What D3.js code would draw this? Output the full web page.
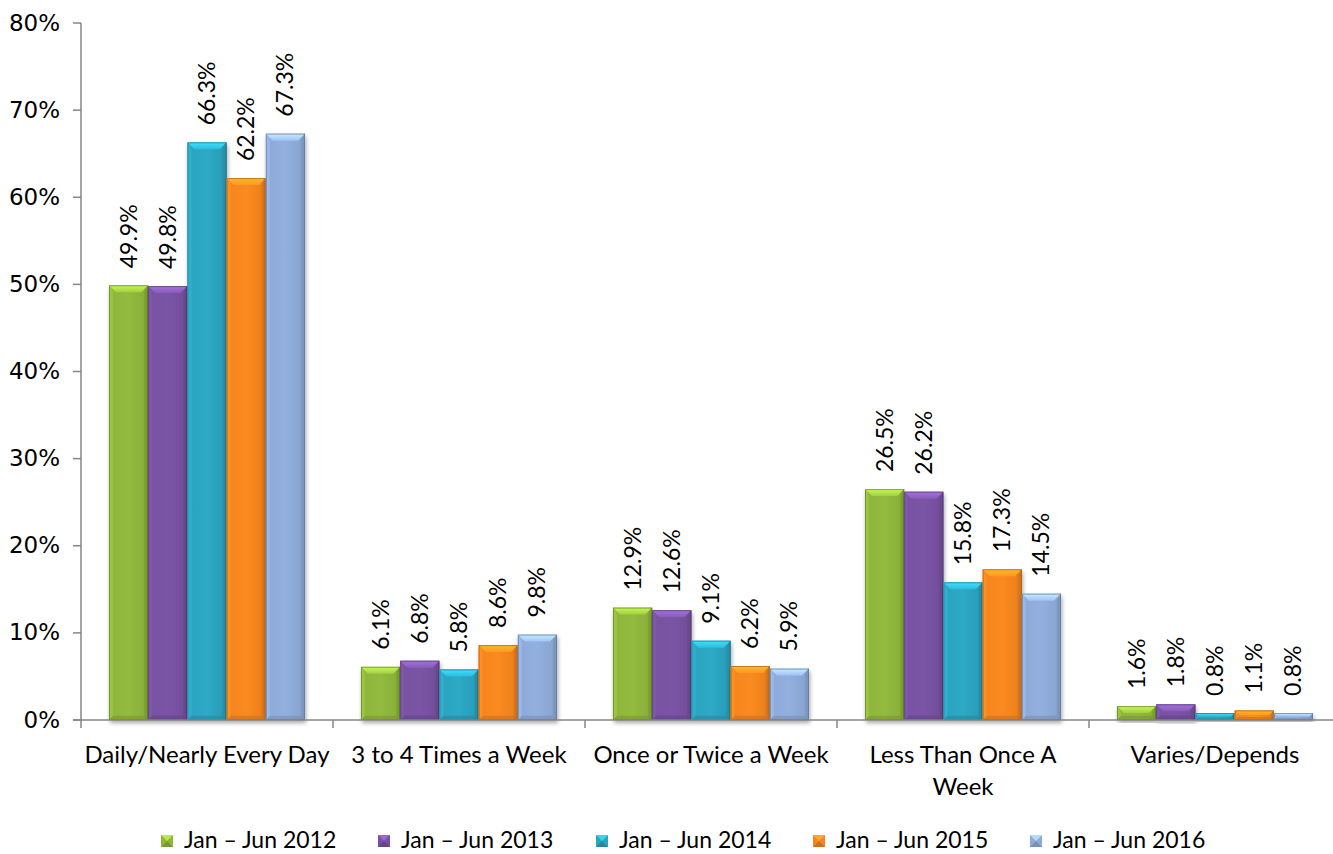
<!DOCTYPE html>
<html>
<head>
<meta charset="utf-8">
<script src="https://cdn.jsdelivr.net/npm/d3@7"></script>
<style>
  html, body { margin: 0; padding: 0; background: #fff; }
  svg { display: block; font-family: Lato, "Open Sans", sans-serif; }
</style>
</head>
<body>
<svg id="chart" width="1333" height="854"></svg>
<script>
// Categories along the x axis (multi-line labels split on "\n")
const categories = [
  "Daily/Nearly Every Day",
  "3 to 4 Times a Week",
  "Once or Twice a Week",
  "Less Than Once A\nWeek",
  "Varies/Depends"
];

// Series names (legend order)
const seriesNames = [
  "Jan – Jun 2012",
  "Jan – Jun 2013",
  "Jan – Jun 2014",
  "Jan – Jun 2015",
  "Jan – Jun 2016"
];

// Percent values per series, one entry per category
const s2012 = [49.9, 6.1, 12.9, 26.5, 1.6];
const s2013 = [49.8, 6.8, 12.6, 26.2, 1.8];
const s2014 = [66.3, 5.8, 9.1, 15.8, 0.8];
const s2015 = [62.2, 8.6, 6.2, 17.3, 1.1];
const s2016 = [67.3, 9.8, 5.9, 14.5, 0.8];
const seriesValues = [s2012, s2013, s2014, s2015, s2016];

// Y axis tick values (percent)
const yTicks = [0, 10, 20, 30, 40, 50, 60, 70, 80];

// Base colour per series
const seriesColors = ["#8fb63b", "#7752a1", "#2ca4c0", "#f5861f", "#8eabd9"];

const svg = d3.select("#chart");
const axisX = 81, axisY = 720, topY = 23;
const tickFont = 23, catFont = 24, valueFont = 23, legendFont = 23;

const x0 = d3.scaleBand()
  .domain(categories)
  .range([axisX, axisX + 5 * 252])
  .paddingInner(0.222)
  .paddingOuter(0.111);

const x1 = d3.scaleBand()
  .domain(seriesNames)
  .range([0, x0.bandwidth()]);

const y = d3.scaleLinear().domain([0, 80]).range([axisY, topY]);

// ---- gradients / filters ----
const defs = svg.append("defs");
const shadow = defs.append("filter").attr("id", "shadow")
  .attr("x", "-20%").attr("y", "-20%").attr("width", "140%").attr("height", "140%");
shadow.append("feGaussianBlur").attr("in", "SourceAlpha").attr("stdDeviation", 2.2);
shadow.append("feOffset").attr("dx", 1).attr("dy", 3).attr("result", "off");
shadow.append("feComponentTransfer").append("feFuncA").attr("type", "linear").attr("slope", 0.35);
const merge = shadow.append("feMerge");
merge.append("feMergeNode");
merge.append("feMergeNode").attr("in", "SourceGraphic");

seriesColors.forEach((c, i) => {
  const base = d3.color(c);
  const g = defs.append("linearGradient").attr("id", "body" + i)
    .attr("x1", 0).attr("x2", 1).attr("y1", 0).attr("y2", 0);
  g.append("stop").attr("offset", 0).attr("stop-color", base.brighter(0.25));
  g.append("stop").attr("offset", 0.12).attr("stop-color", base);
  g.append("stop").attr("offset", 0.5).attr("stop-color", base.brighter(0.08));
  g.append("stop").attr("offset", 0.88).attr("stop-color", base.darker(0.1));
  g.append("stop").attr("offset", 1).attr("stop-color", base.darker(0.6));
  const t = defs.append("linearGradient").attr("id", "top" + i)
    .attr("x1", 0).attr("x2", 0).attr("y1", 0).attr("y2", 1);
  t.append("stop").attr("offset", 0).attr("stop-color", base.brighter(0.9));
  t.append("stop").attr("offset", 1).attr("stop-color", base.brighter(0.35));
});

// ---- axes ----
const axisColor = "#868686";
svg.append("line").attr("x1", axisX).attr("x2", axisX)
  .attr("y1", topY).attr("y2", axisY).attr("stroke", axisColor).attr("stroke-width", 1.5);

const yAxis = svg.append("g");
yTicks.forEach(t => {
  yAxis.append("line").attr("x1", axisX - 8).attr("x2", axisX)
    .attr("y1", y(t)).attr("y2", y(t)).attr("stroke", axisColor).attr("stroke-width", 1.5);
  yAxis.append("text").attr("x", 60).attr("y", y(t)).attr("dy", "0.33em")
    .attr("text-anchor", "end").attr("font-size", tickFont)
    .attr("font-family", "'DejaVu Sans', Verdana, sans-serif").attr("fill", "#000")
    .text(t + "%");
});

// ---- bars ----
const bevel = 7;
const groups = svg.append("g").selectAll("g")
  .data(categories).join("g")
  .attr("transform", d => `translate(${x0(d)},0)`);

categories.forEach((cat, ci) => {
  const g = groups.filter(d => d === cat);
  seriesValues.forEach((vals, si) => {
    const v = vals[ci];
    const bx = x1(seriesNames[si]);
    const bw = x1.bandwidth();
    const by = y(v);
    const bh = axisY - by;
    const base = d3.color(seriesColors[si]);
    const bar = g.append("g").attr("filter", "url(#shadow)");
    bar.append("rect").attr("x", bx).attr("y", by).attr("width", bw).attr("height", bh)
      .attr("fill", `url(#body${si})`);
    const b = Math.min(bevel, bh * 0.5);
    // top bevel facet
    bar.append("polygon")
      .attr("points", [[bx, by], [bx + bw, by], [bx + bw - b, by + b], [bx + b, by + b]].map(p => p.join(",")).join(" "))
      .attr("fill", `url(#top${si})`);
    // side and bottom facets
    bar.append("polygon")
      .attr("points", [[bx + bw, by], [bx + bw, axisY], [bx + bw - b * 0.6, axisY - b * 0.6], [bx + bw - b * 0.6, by + b]].map(p => p.join(",")).join(" "))
      .attr("fill", base.darker(0.35)).attr("opacity", 0.7);
    bar.append("polygon")
      .attr("points", [[bx, by], [bx + b * 0.6, by + b], [bx + b * 0.6, axisY - b * 0.6], [bx, axisY]].map(p => p.join(",")).join(" "))
      .attr("fill", base.brighter(0.3)).attr("opacity", 0.45);
    bar.append("polygon")
      .attr("points", [[bx, axisY], [bx + bw, axisY], [bx + bw - b * 0.6, axisY - b * 0.6], [bx + b * 0.6, axisY - b * 0.6]].map(p => p.join(",")).join(" "))
      .attr("fill", base.darker(0.5)).attr("opacity", 0.6);
    bar.append("rect").attr("x", bx + 0.5).attr("y", by + 0.5).attr("width", bw - 1).attr("height", Math.max(0, bh - 1))
      .attr("fill", "none").attr("stroke", base.darker(1.3)).attr("stroke-opacity", 0.6).attr("stroke-width", 1);

    // rotated value label
    const lx = bx + bw / 2;
    const ly = by - 17;
    g.append("text")
      .attr("transform", `translate(${lx + 8},${ly}) rotate(-90)`)
      .attr("font-size", valueFont).attr("fill", "#000")
      .text(v.toFixed(1) + "%");
  });
});

// x axis line with boundary ticks
svg.append("line").attr("x1", axisX - 8).attr("x2", 1333)
  .attr("y1", axisY).attr("y2", axisY).attr("stroke", axisColor).attr("stroke-width", 1.5);
d3.range(categories.length + 1).forEach(i => {
  const tx = axisX + i * x0.step();
  svg.append("line").attr("x1", tx).attr("x2", tx).attr("y1", axisY).attr("y2", axisY + 8)
    .attr("stroke", axisColor).attr("stroke-width", 1.5);
});

// category labels
categories.forEach(cat => {
  const cx = x0(cat) + x0.bandwidth() / 2;
  const t = svg.append("text").attr("text-anchor", "middle")
    .attr("font-size", catFont).attr("fill", "#000");
  cat.split("\n").forEach((line, li) => {
    t.append("tspan").attr("x", cx).attr("y", 763 + li * 32).text(line);
  });
});

// ---- legend ----
const legendX = [161, 378, 596, 813, 1030];
const legend = svg.append("g");
seriesNames.forEach((name, i) => {
  const lx = legendX[i], ly = 835, s = 12;
  const base = d3.color(seriesColors[i]);
  const item = legend.append("g");
  item.append("rect").attr("x", lx).attr("y", ly).attr("width", s).attr("height", s)
    .attr("fill", base);
  item.append("polygon")
    .attr("points", [[lx, ly], [lx + s, ly], [lx + s / 2, ly + s / 2]].map(p => p.join(",")).join(" "))
    .attr("fill", base.brighter(0.7));
  item.append("polygon")
    .attr("points", [[lx, ly + s], [lx + s, ly + s], [lx + s / 2, ly + s / 2]].map(p => p.join(",")).join(" "))
    .attr("fill", base.darker(0.5));
  item.append("text").attr("x", lx + 23).attr("y", 848)
    .attr("font-size", legendFont).attr("fill", "#000").text(name);
});
</script>
</body>
</html>
